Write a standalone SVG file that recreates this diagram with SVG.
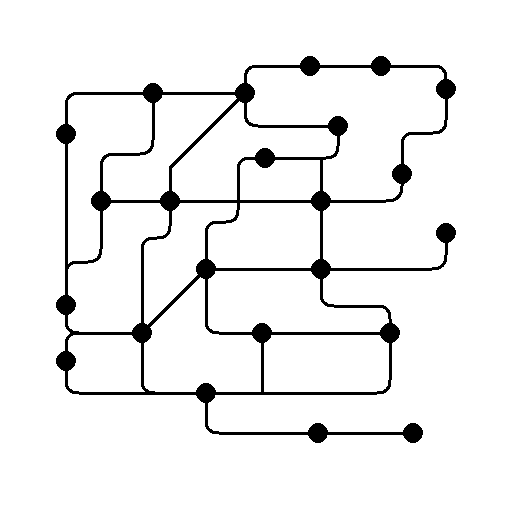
<svg xmlns="http://www.w3.org/2000/svg" width="512" height="512" viewBox="0 0 512 512">
<style>
.e{fill:none;stroke:#000;stroke-width:3;shape-rendering:crispEdges}
.n{fill:#000;shape-rendering:crispEdges}
</style>
<rect width="512" height="512" fill="#fff"/>
<g id="connectors">
<path class="e" d="M66,134 V106 Q66,93 80,93 H245"/>
<path class="e" d="M153,93 V140 Q153,154 140,154 H115 Q101,154 101,168 V201"/>
<path class="e" d="M245,93 L170,168 V201"/>
<path class="e" d="M101,201 H321"/>
<path class="e" d="M321,201 H386 Q402,201 402,186 V174"/>
<path class="e" d="M245,93 V79 Q245,66 258,66 H433 Q446,66 446,79 V89"/>
<path class="e" d="M245,93 V113 Q245,126 258,126 H338"/>
<path class="e" d="M446,89 V120 Q446,133 433,133 H415 Q402,133 402,146 V174"/>
<path class="e" d="M338,126 V146 Q338,158 326,158 H321"/>
<path class="e" d="M265,158 H321 V269"/>
<path class="e" d="M265,158 H251 Q238,158 238,171 V210 Q238,222 226,222 H219 Q206,222 206,235 V269"/>
<path class="e" d="M170,201 V226 Q170,238 157,238 H155 Q142,238 142,251 V333"/>
<path class="e" d="M66,134 V305"/>
<path class="e" d="M101,201 V249 Q101,262 88,262 H79 Q66,262 66,275"/>
<path class="e" d="M66,305 V320 Q66,333 79,333 H142"/>
<path class="e" d="M66,361 V346 Q66,333 79,333"/>
<path class="e" d="M66,361 V380 Q66,393 79,393 H206"/>
<path class="e" d="M142,333 V380 Q142,393 155,393 H206"/>
<path class="e" d="M142,333 L206,269"/>
<path class="e" d="M206,269 H432 Q446,269 446,255 V233"/>
<path class="e" d="M321,269 V293 Q321,306 334,306 H377 Q390,306 390,319 V333"/>
<path class="e" d="M206,269 V320 Q206,333 219,333 H390"/>
<path class="e" d="M262,333 V393"/>
<path class="e" d="M390,333 V380 Q390,393 377,393 H206"/>
<path class="e" d="M206,393 V420 Q206,433 219,433 H413"/>
</g>
<g id="nA"><circle class="n" cx="153" cy="93" r="10"/></g>
<g id="nB"><circle class="n" cx="245" cy="93" r="10"/></g>
<g id="nC"><circle class="n" cx="310" cy="66" r="10"/></g>
<g id="nD"><circle class="n" cx="381" cy="66" r="10"/></g>
<g id="nE"><circle class="n" cx="446" cy="89" r="10"/></g>
<g id="nF"><circle class="n" cx="66" cy="134" r="10"/></g>
<g id="nG"><circle class="n" cx="338" cy="126" r="10"/></g>
<g id="nH"><circle class="n" cx="265" cy="158" r="10"/></g>
<g id="nI"><circle class="n" cx="402" cy="174" r="10"/></g>
<g id="nJ"><circle class="n" cx="101" cy="201" r="10"/></g>
<g id="nK"><circle class="n" cx="170" cy="201" r="10"/></g>
<g id="nL"><circle class="n" cx="321" cy="201" r="10"/></g>
<g id="nM"><circle class="n" cx="446" cy="233" r="10"/></g>
<g id="nN"><circle class="n" cx="206" cy="269" r="10"/></g>
<g id="nO"><circle class="n" cx="321" cy="269" r="10"/></g>
<g id="nP"><circle class="n" cx="66" cy="305" r="10"/></g>
<g id="nQ"><circle class="n" cx="142" cy="333" r="10"/></g>
<g id="nR"><circle class="n" cx="262" cy="333" r="10"/></g>
<g id="nS"><circle class="n" cx="390" cy="333" r="10"/></g>
<g id="nT"><circle class="n" cx="66" cy="361" r="10"/></g>
<g id="nU"><circle class="n" cx="206" cy="393" r="10"/></g>
<g id="nV"><circle class="n" cx="318" cy="433" r="10"/></g>
<g id="nW"><circle class="n" cx="413" cy="433" r="10"/></g>
</svg>
